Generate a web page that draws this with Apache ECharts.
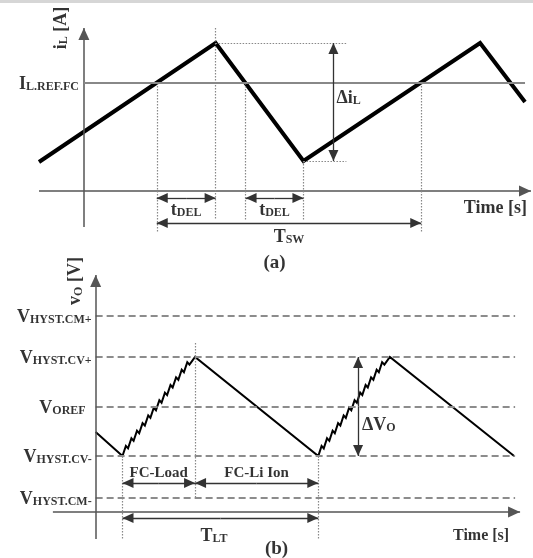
<!DOCTYPE html>
<html><head><meta charset="utf-8">
<script src="https://cdn.jsdelivr.net/npm/echarts@6/dist/echarts.min.js"></script>
<style>html,body{margin:0;padding:0;background:#fff}#c{width:533px;height:558px}</style>
</head><body><div id="c"></div>
<script>
// ---------- Panel (a): inductor current (arbitrary units) ----------
const currentWave = [[-4.5, 2.9], [13.2, 14.8], [22.0, 3.0], [39.7, 14.8], [44.2, 8.9]];
const iRefLevel = 10.8;
const iPeak = 14.8, iValley = 3.0;
const tRefUp1 = 7.3, tPeak = 13.2, tRefDown = 16.2, tValley = 22.0, tRefUp2 = 33.8;
const tDeltaI = 25.0, tDotEndA = 26.3;

// ---------- Panel (b): output voltage (arbitrary units) ----------
const levelNames = ['HYST.CM+', 'HYST.CV+', 'OREF', 'HYST.CV-', 'HYST.CM-'];
const levelValues = [19.6, 15.5, 10.5, 5.6, 1.4];
const tLow1 = 2.7, tHigh1 = 10.0, tLow2 = 22.4, tHigh2 = 29.6, tLevelEnd = 42.2;
const tDeltaV = 26.4;
const voltageWave = [
  [0, 8.0], [2.70, 5.60], [3.04, 6.61], [3.26, 6.36], [3.60, 7.37], [3.82, 7.12], [4.16, 8.13],
  [4.38, 7.88], [4.72, 8.89], [4.95, 8.65], [5.29, 9.66], [5.51, 9.41], [5.85, 10.42], [6.07, 10.17],
  [6.41, 11.18], [6.63, 10.93], [6.97, 11.94], [7.19, 11.69], [7.53, 12.70], [7.75, 12.45],
  [8.09, 13.46], [8.32, 13.22], [8.66, 14.23], [8.88, 13.98], [9.22, 14.99], [9.44, 14.74], [10.0, 15.5],
  [22.4, 5.6], [22.73, 6.61], [22.95, 6.36], [23.28, 7.37], [23.51, 7.12], [23.84, 8.13], [24.06, 7.88],
  [24.39, 8.89], [24.62, 8.65], [24.95, 9.66], [25.17, 9.41], [25.50, 10.42], [25.72, 10.17],
  [26.05, 11.18], [26.28, 10.93], [26.61, 11.94], [26.83, 11.69], [27.16, 12.70], [27.38, 12.45],
  [27.71, 13.46], [27.94, 13.22], [28.27, 14.23], [28.49, 13.98], [28.82, 14.99], [29.05, 14.74],
  [29.6, 15.5], [42.1, 5.6]
];

const F = '"Liberation Serif","Times New Roman",serif';
const tok = (size, extra) => Object.assign({fontFamily: F, fontWeight: 'bold', fontSize: size, color: '#000',
  lineHeight: Math.round(size * 1.1), verticalAlign: 'bottom'}, extra || {});
const rich = {m: tok(18), s: tok(12, {lineHeight: 14}), t: tok(18), u: tok(16), f: tok(15), p: tok(19)};

const T = 'triangle';
function seg(a, b, s2) { return [{coord: a, symbol: 'none'}, {coord: b, symbol: s2 || 'none'}]; }
// double-headed dimension arrow: two half-lines from the middle, each ending in an arrowhead
function dim(a, b) {
  const mid = [(a[0] + b[0]) / 2, (a[1] + b[1]) / 2];
  return [seg(mid, a, T), seg(mid, b, T)];
}
function ml(gi, lines, lineStyle, symbolSize) {
  return {type: 'line', xAxisIndex: gi, yAxisIndex: gi, data: [], silent: true, animation: false,
    markLine: {silent: true, animation: false, symbol: ['none', 'none'], symbolSize: symbolSize || [9, 11],
      symbolOffset: [[0, '50%'], [0, '50%']], label: {show: false}, emphasis: {disabled: true},
      itemStyle: {color: '#000'}, lineStyle: lineStyle, data: lines}};
}
function labels(gi, items) {
  return {type: 'scatter', xAxisIndex: gi, yAxisIndex: gi, symbolSize: 0, silent: true, animation: false, clip: false,
    data: items.map(it => ({value: it.at, label: Object.assign({show: true, position: 'inside', formatter: it.text, rich: rich}, it.opt || {})}))};
}
const axisStyle = {color: '#555', width: 1.5, type: 'solid'};
const dotStyle = {color: '#888', width: 1.2, type: [1.5, 1.5]};
const dimStyle = {color: '#333', width: 1.3, type: 'solid'};

const series = [
  // ---- panel (a)
  {type: 'line', xAxisIndex: 0, yAxisIndex: 0, data: currentWave, symbol: 'none', silent: true, animation: false, clip: false,
    lineStyle: {color: '#000', width: 4, join: 'miter', cap: 'butt'}},
  ml(0, [seg([0, -3.6], [0, 16.3], T), seg([-4.5, 0], [44.8, 0], T)], axisStyle, [11, 12]),
  ml(0, [seg([0, iRefLevel], [44.2, iRefLevel])], {color: '#888', width: 2, type: 'solid'}),
  ml(0, [
    seg([tRefUp1, iRefLevel], [tRefUp1, -4.1]), seg([tPeak, 16.3], [tPeak, -2.9]),
    seg([tRefDown, iRefLevel], [tRefDown, -2.9]), seg([tValley, iValley], [tValley, -2.9]),
    seg([tRefUp2, iRefLevel], [tRefUp2, -4.1]),
    seg([tPeak, iPeak], [tDotEndA, iPeak]), seg([tValley, iValley], [tDotEndA, iValley])
  ], dotStyle),
  ml(0, [].concat(
    dim([tDeltaI, iValley], [tDeltaI, iPeak]),
    dim([tRefUp1, -0.7], [tPeak, -0.7]), dim([tRefDown, -0.7], [tValley, -0.7]),
    dim([tRefUp1, -3.2], [tRefUp2, -3.2])
  ), dimStyle, [10, 11]),
  labels(0, [
    {at: [0, iRefLevel], text: '{m|I}{s|L.REF.FC}', opt: {position: 'left', distance: 5}},
    {at: [-2.4, 16.3], text: '{m|i}{s|L}{m| [A]}', opt: {rotate: 90}},
    {at: [tDeltaI, 9.4], text: '{m|Δi}{s|L}', opt: {position: 'right', distance: 3}},
    {at: [(tRefUp1 + tPeak) / 2, -1.8], text: '{m|t}{s|DEL}'},
    {at: [(tRefDown + tValley) / 2, -1.8], text: '{m|t}{s|DEL}'},
    {at: [(tRefUp1 + tRefUp2) / 2, -4.5], text: '{m|T}{s|SW}'},
    {at: [44.4, -1.6], text: '{t|Time [s]}', opt: {position: 'left', distance: 0}},
    {at: [19.1, -7.1], text: '{p|(a)}'}
  ]),
  // ---- panel (b)
  ml(1, levelValues.map(v => seg([0, v], [tLevelEnd, v])), {color: '#8c8c8c', width: 2, type: [7, 4]}),
  {type: 'line', xAxisIndex: 1, yAxisIndex: 1, data: voltageWave, symbol: 'none', silent: true, animation: false, clip: false,
    lineStyle: {color: '#000', width: 2, join: 'miter'}},
  ml(1, [seg([0, -2.7], [0, 23.7], T), seg([-4.3, 0], [42.7, 0], T)], axisStyle, [11, 12]),
  ml(1, [
    seg([tLow1, levelValues[3]], [tLow1, -2.8]), seg([tHigh1, 16.9], [tHigh1, 1.5]),
    seg([tLow2, levelValues[3]], [tLow2, -2.8])
  ], dotStyle),
  ml(1, [].concat(
    dim([tDeltaV, levelValues[1]], [tDeltaV, levelValues[3]]),
    dim([tLow1, 2.9], [tHigh1, 2.9]), dim([tHigh1, 2.9], [tLow2, 2.9]),
    dim([tLow1, -0.6], [tLow2, -0.6])
  ), dimStyle, [10, 11]),
  labels(1, levelNames.map((n, i) => ({at: [0, levelValues[i]], text: '{m|V}{s|' + n + '}',
    opt: {position: 'left', distance: n === 'OREF' ? 10 : 4}})).concat([
    {at: [-2.1, 23.1], text: '{m|v}{s|O}{m| [V]}', opt: {rotate: 90}},
    {at: [tDeltaV, 8.8], text: '{m|ΔV}{s|O}', opt: {position: 'right', distance: 4}},
    {at: [(tLow1 + tHigh1) / 2, 4.0], text: '{f|FC-Load}'},
    {at: [(tHigh1 + tLow2) / 2, 4.0], text: '{f|FC-Li Ion}'},
    {at: [11.9, -2.3], text: '{m|T}{s|LT}'},
    {at: [41.6, -2.3], text: '{u|Time [s]}', opt: {position: 'left', distance: 0}},
    {at: [18.2, -3.6], text: '{p|(b)}'}
  ]))
];

const chart = echarts.init(document.getElementById('c'), null, {renderer: 'canvas'});
chart.setOption({
  animation: false,
  backgroundColor: '#fff',
  graphic: [{type: 'rect', left: 0, top: 0, shape: {width: 533, height: 3}, style: {fill: '#d6d6d6'}}],
  grid: [
    {left: 34, top: 21, width: 500, height: 250},
    {left: 36, top: 272, width: 500, height: 280}
  ],
  xAxis: [
    {type: 'value', gridIndex: 0, min: -5, max: 45, show: false},
    {type: 'value', gridIndex: 1, min: -6, max: 44, show: false}
  ],
  yAxis: [
    {type: 'value', gridIndex: 0, min: -8, max: 17, show: false},
    {type: 'value', gridIndex: 1, min: -4, max: 24, show: false}
  ],
  series: series
});
</script></body></html>
